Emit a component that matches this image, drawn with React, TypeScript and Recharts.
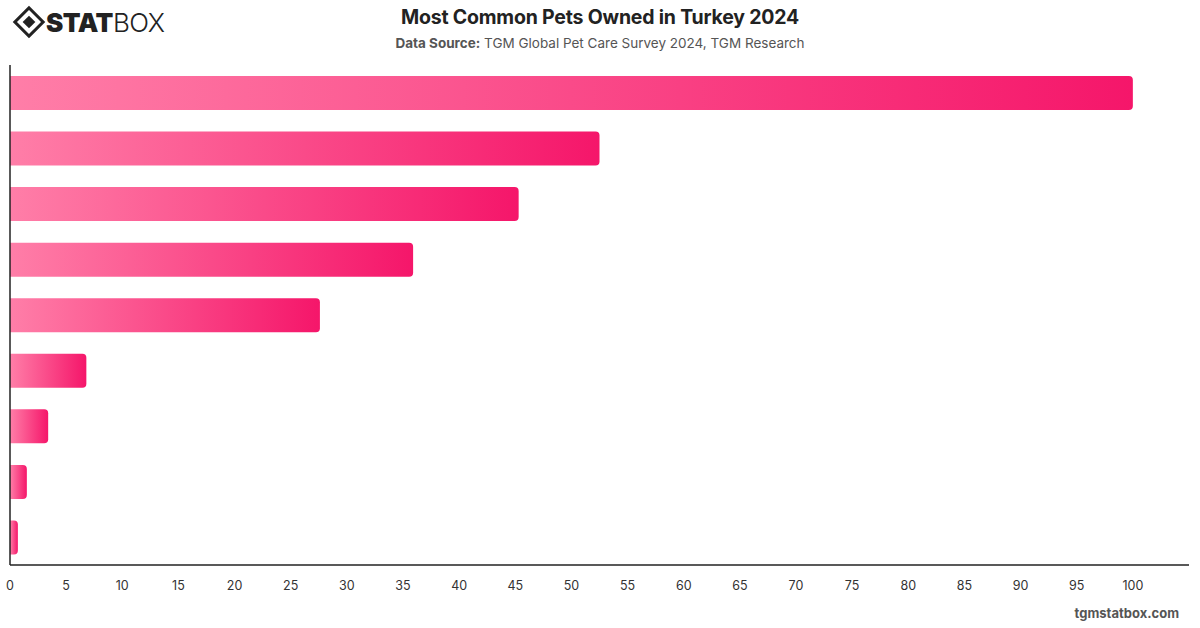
import React from "react";
import { BarChart, Bar, XAxis, YAxis } from "recharts";

// pet categories (labels are not shown on the chart)
const pets = ["Dog", "Cat", "Fish", "Bird", "Turtle", "Hamster", "Rabbit", "Reptile", "Other"];
const shares = [100, 52.5, 45.3, 35.9, 27.6, 6.8, 3.4, 1.5, 0.7];
const xTicks = [0, 5, 10, 15, 20, 25, 30, 35, 40, 45, 50, 55, 60, 65, 70, 75, 80, 85, 90, 95, 100];

const data = pets.map((name, i) => ({ name, value: shares[i] }));

const font = "Inter, 'Helvetica Neue', Arial, sans-serif";

function Logo() {
  return (
    <svg width={170} height={40} style={{ position: "absolute", left: 12, top: 4 }}>
      <g transform="translate(17,18)">
        <rect x={-10} y={-10} width={20} height={20} transform="rotate(45)" fill="none" stroke="#222" strokeWidth={3} />
        <rect x={-4.5} y={-4.5} width={9} height={9} transform="rotate(45)" fill="#222" />
      </g>
      <text x={34} y={28} fontFamily={font} fontSize={26} fontWeight={900} fill="#222" letterSpacing={-0.5}>
        STAT
        <tspan fontWeight={300}>BOX</tspan>
      </text>
    </svg>
  );
}

export default function App() {
  return (
    <div style={{ position: "absolute", left: 0, top: 0, width: 1200, height: 628, background: "#fff", fontFamily: font }}>
      <Logo />
      <div style={{ position: "absolute", top: 5, width: 1200, textAlign: "center", fontSize: 19.5, fontWeight: 700, color: "#222", letterSpacing: -0.2 }}>
        Most Common Pets Owned in Turkey 2024
      </div>
      <div style={{ position: "absolute", top: 35, width: 1200, textAlign: "center", fontSize: 13.5, color: "#555" }}>
        <b>Data Source:</b> TGM Global Pet Care Survey 2024, TGM Research
      </div>
      <BarChart
        width={1200}
        height={628}
        data={data}
        layout="vertical"
        margin={{ top: 65, right: 11, bottom: 33, left: 9 }}
        barSize={34}
      >
        <defs>
          <linearGradient id="pinkGrad" x1="0" y1="0" x2="1" y2="0">
            <stop offset="0%" stopColor="#ff7ea8" />
            <stop offset="100%" stopColor="#f5166a" />
          </linearGradient>
        </defs>
        <XAxis
          type="number"
          domain={[0, 105]}
          ticks={xTicks}
          tickLine={false}
          axisLine={{ stroke: "#222", strokeWidth: 1.5 }}
          tick={{ fill: "#333", fontSize: 12.5, fontFamily: font }}
          tickMargin={10}
          height={30}
          interval={0}
        />
        <YAxis
          type="category"
          dataKey="name"
          width={1}
          tick={false}
          tickLine={false}
          axisLine={{ stroke: "#222", strokeWidth: 1.5 }}
        />
        <Bar dataKey="value" fill="url(#pinkGrad)" radius={[0, 4, 4, 0]} isAnimationActive={false} />
      </BarChart>
      <div style={{ position: "absolute", right: 21, top: 605, fontSize: 13, fontWeight: 700, color: "#555" }}>
        tgmstatbox.com
      </div>
    </div>
  );
}
